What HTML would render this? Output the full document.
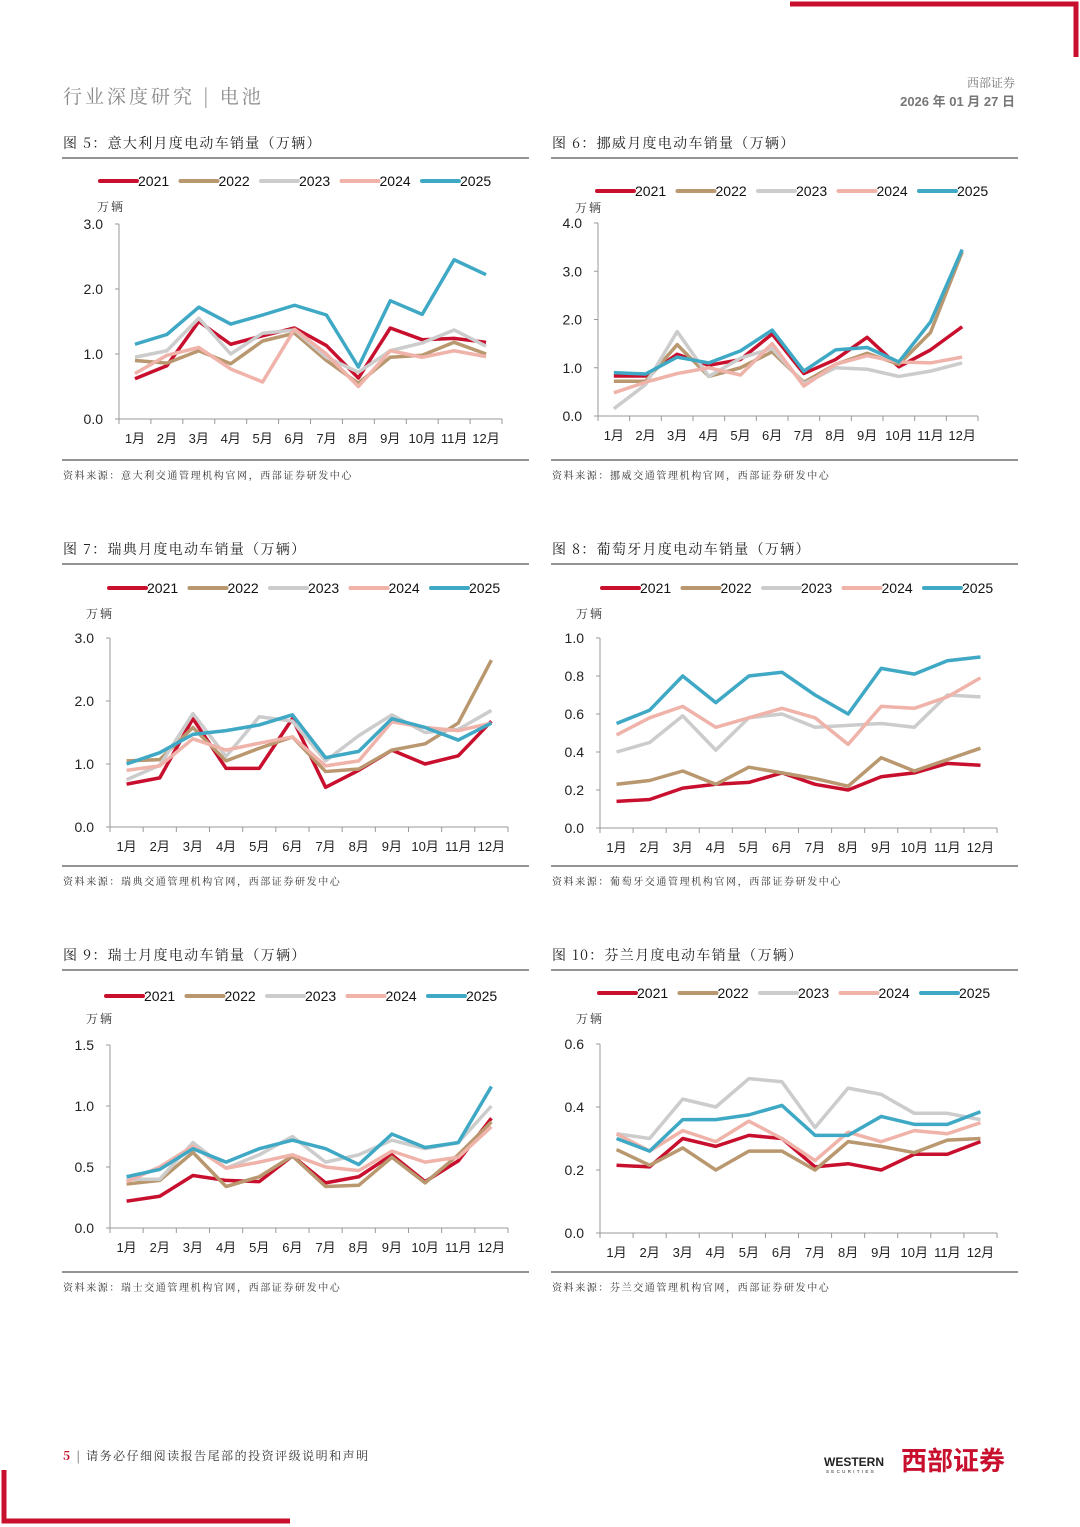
<!DOCTYPE html>
<html><head><meta charset="utf-8">
<style>
html,body{margin:0;padding:0;background:#fff;}
svg{display:block;font-family:"Liberation Sans","Noto Sans CJK SC",sans-serif;}
.cn{font-family:"Noto Serif CJK SC","Noto Sans CJK SC",serif;}
</style></head>
<body>
<svg id="page" width="1080" height="1527" viewBox="0 0 1080 1527" xmlns="http://www.w3.org/2000/svg">
<polyline points="790,4 1076,4 1076,57" fill="none" stroke="#c8102e" stroke-width="5"/>
<polyline points="4,1470 4,1521 290,1521" fill="none" stroke="#c8102e" stroke-width="5"/>
<text class="cn" x="63" y="103" font-size="19" fill="#8a8a8a" letter-spacing="3">行业深度研究 | 电池</text>
<text class="cn" x="1015" y="87" font-size="12" fill="#777" text-anchor="end">西部证券</text>
<text x="1015" y="106" font-size="13" fill="#777" font-weight="bold" text-anchor="end">2026 年 01 月 27 日</text>
<g id="charts"></g>
<text class="cn" x="63" y="1460" font-size="12" fill="#333" letter-spacing="1.5"><tspan fill="#c8102e" font-weight="bold">5</tspan>  |  请务必仔细阅读报告尾部的投资评级说明和声明</text>
<text x="824" y="1466" font-size="12" font-weight="bold" fill="#222">WESTERN</text>
<text x="826" y="1473" font-size="4.5" fill="#222" letter-spacing="2.3">SECURITIES</text>
<text x="901" y="1470" font-size="26" font-weight="bold" fill="#c8102e" font-family="Noto Sans CJK SC,sans-serif">西部证券</text>
</svg>
<script>
const months=['1月','2月','3月','4月','5月','6月','7月','8月','9月','10月','11月','12月'];
const years=['2021','2022','2023','2024','2025'];
const colors=['#c8102e','#b9976f','#cccccc','#efb3aa','#3fa9c5'];

const it21=[.62,.82,1.5,1.15,1.28,1.4,1.13,.63,1.4,1.22,1.24,1.18];
const it22=[.9,.86,1.05,.85,1.2,1.32,.9,.55,.95,.98,1.18,1.0];
const it23=[.95,1.05,1.55,1.0,1.32,1.37,.95,.72,1.05,1.17,1.37,1.12];
const it24=[.7,.98,1.1,.77,.57,1.38,1.0,.5,1.05,.95,1.05,.96];
const it25=[1.15,1.3,1.72,1.46,1.6,1.75,1.6,.8,1.82,1.61,2.45,2.22];

const no21=[.83,.83,1.28,1.05,1.17,1.7,.88,1.17,1.63,1.02,1.37,1.85];
const no22=[.72,.72,1.48,.82,1.0,1.33,.7,1.07,1.3,1.07,1.73,3.4];
const no23=[.15,.65,1.75,.82,1.2,1.4,.67,1.0,.97,.82,.93,1.1];
const no24=[.48,.7,.88,1.0,.85,1.5,.62,1.07,1.25,1.12,1.1,1.22];
const no25=[.9,.87,1.22,1.1,1.35,1.78,.93,1.37,1.42,1.12,1.95,3.45];

const se21=[.68,.78,1.72,.93,.93,1.72,.63,.9,1.22,1.0,1.13,1.68];
const se22=[1.05,1.07,1.58,1.05,1.25,1.43,.88,.92,1.22,1.32,1.65,2.65];
const se23=[.75,.98,1.8,1.12,1.75,1.68,1.05,1.45,1.78,1.5,1.55,1.85];
const se24=[.9,.97,1.4,1.22,1.33,1.43,.97,1.05,1.67,1.58,1.53,1.65];
const se25=[1.0,1.18,1.47,1.53,1.62,1.78,1.1,1.2,1.72,1.58,1.38,1.65];

const pt21=[.14,.15,.21,.23,.24,.29,.23,.2,.27,.29,.34,.33];
const pt22=[.23,.25,.3,.23,.32,.29,.26,.22,.37,.3,.36,.42];
const pt23=[.4,.45,.59,.41,.58,.6,.53,.54,.55,.53,.7,.69];
const pt24=[.49,.58,.64,.53,.58,.63,.58,.44,.64,.63,.69,.79];
const pt25=[.55,.62,.8,.66,.8,.82,.7,.6,.84,.81,.88,.9];

const ch21=[.22,.26,.43,.39,.38,.59,.37,.42,.6,.38,.55,.9];
const ch22=[.36,.39,.62,.34,.42,.59,.34,.35,.58,.37,.6,.87];
const ch23=[.4,.4,.7,.49,.6,.75,.54,.6,.72,.65,.7,1.0];
const ch24=[.38,.5,.67,.49,.54,.6,.5,.47,.63,.54,.58,.83];
const ch25=[.42,.48,.65,.54,.65,.72,.65,.52,.77,.66,.7,1.16];

const fi21=[.215,.21,.3,.275,.31,.3,.21,.22,.2,.25,.25,.29];
const fi22=[.265,.215,.27,.2,.26,.26,.2,.29,.275,.255,.295,.3];
const fi23=[.315,.3,.425,.4,.49,.48,.335,.46,.44,.38,.38,.36];
const fi24=[.315,.26,.325,.29,.355,.3,.23,.32,.29,.325,.315,.35];
const fi25=[.3,.26,.36,.36,.375,.405,.31,.31,.37,.345,.345,.385];

const ticks5=['0.0','1.0','2.0','3.0'];
const ticks6=['0.0','1.0','2.0','3.0','4.0'];
const ticks7=['0.0','1.0','2.0','3.0'];
const ticks8=['0.0','0.2','0.4','0.6','0.8','1.0'];
const ticks9=['0.0','0.5','1.0','1.5'];
const ticks10=['0.0','0.2','0.4','0.6'];

const charts=[
 {id:'italy',title:'图 5：意大利月度电动车销量（万辆）',src:'资料来源：意大利交通管理机构官网，西部证券研发中心',col:0,row:0,ax:119,top:224,bot:419,right:502,leg:181,legX:100,unitX:97,unitY:211,ticks:ticks5,series:[it21,it22,it23,it24,it25]},
 {id:'norway',title:'图 6：挪威月度电动车销量（万辆）',src:'资料来源：挪威交通管理机构官网，西部证券研发中心',col:1,row:0,ax:598,top:223,bot:416,right:978,leg:191,legX:597,unitX:575,unitY:212,ticks:ticks6,series:[no21,no22,no23,no24,no25]},
 {id:'sweden',title:'图 7：瑞典月度电动车销量（万辆）',src:'资料来源：瑞典交通管理机构官网，西部证券研发中心',col:0,row:1,ax:110,top:638,bot:827,right:508,leg:588,legX:109,unitX:86,unitY:618,ticks:ticks7,series:[se21,se22,se23,se24,se25]},
 {id:'portugal',title:'图 8：葡萄牙月度电动车销量（万辆）',src:'资料来源：葡萄牙交通管理机构官网，西部证券研发中心',col:1,row:1,ax:600,top:638,bot:828,right:997,leg:588,legX:602,unitX:576,unitY:618,ticks:ticks8,series:[pt21,pt22,pt23,pt24,pt25]},
 {id:'switzerland',title:'图 9：瑞士月度电动车销量（万辆）',src:'资料来源：瑞士交通管理机构官网，西部证券研发中心',col:0,row:2,ax:110,top:1045,bot:1228,right:508,leg:996,legX:106,unitX:86,unitY:1023,ticks:ticks9,series:[ch21,ch22,ch23,ch24,ch25]},
 {id:'finland',title:'图 10：芬兰月度电动车销量（万辆）',src:'资料来源：芬兰交通管理机构官网，西部证券研发中心',col:1,row:2,ax:600,top:1044,bot:1233,right:997,leg:993,legX:599,unitX:576,unitY:1023,ticks:ticks10,series:[fi21,fi22,fi23,fi24,fi25]}
];
const NS='http://www.w3.org/2000/svg';
const root=document.getElementById('charts');
function mk(tag,attrs,parent,text){const e=document.createElementNS(NS,tag);for(const k in attrs)e.setAttribute(k,attrs[k]);if(text!==undefined)e.textContent=text;parent.appendChild(e);return e;}
const colX=[62,551], rowY=[0,406,812];
charts.forEach(c=>{
 const g=mk('g',{},root);
 
 
 const x0=colX[c.col], dy=rowY[c.row];
 const t=mk('text',{x:x0+1,y:148+dy,'font-size':14,fill:'#222','class':'cn','letter-spacing':'1.3'},g,c.title);
 
 
 const l1=mk('line',{x1:x0,x2:x0+467,y1:158+dy,y2:158+dy,stroke:'#555','stroke-width':1.2},g);
 
 
 const l2=mk('line',{x1:x0,x2:x0+467,y1:460+dy,y2:460+dy,stroke:'#555','stroke-width':1.2},g);
 
 
 const s=mk('text',{x:x0+1,y:479+dy,'font-size':10,fill:'#333','class':'cn','letter-spacing':'1.6'},g,c.src);
 
 
 const u=mk('text',{x:c.unitX,y:c.unitY,'font-size':12,fill:'#333','class':'cn','letter-spacing':'2'},g,'万辆');
 
 
 const n=c.ticks.length-1, max=parseFloat(c.ticks[n]);
 const yS=v=>c.bot-(v/max)*(c.bot-c.top);
 const bw=(c.right-c.ax)/12;
 const xS=i=>c.ax+bw*(i+0.5);
 const ax=mk('polyline',{points:`${c.ax},${c.top} ${c.ax},${c.bot} ${c.right},${c.bot}`,fill:'none',stroke:'#999','stroke-width':1},g);
 
 
 c.ticks.forEach((tk,i)=>{
  const y=yS(parseFloat(tk));
  mk('line',{x1:c.ax-4,x2:c.ax,y1:y,y2:y,stroke:'#999'},g);
  const tt=mk('text',{x:c.ax-16,y:y+5,'font-size':14,fill:'#222','text-anchor':'end'},g,tk);
  
  
 });
 for(let i=0;i<=12;i++){const x=c.ax+bw*i;mk('line',{x1:x,x2:x,y1:c.bot,y2:c.bot+5,stroke:'#999'},g);}
 months.forEach((m,i)=>{
  const tt=mk('text',{x:xS(i),y:c.bot+24,'font-size':13,fill:'#222','text-anchor':'middle'},g,m);
  
  
 });
 c.series.forEach((arr,k)=>{
  const p=mk('polyline',{points:arr.map((v,i)=>xS(i)+','+yS(v)).join(' '),fill:'none',stroke:colors[k],'stroke-width':3.5,'stroke-linejoin':'round'},g);
  
  
 });
 years.forEach((yr,k)=>{
  const lx=c.legX+k*80.5;
  const lg=mk('g',{},g);
  
  
  mk('line',{x1:lx,x2:lx+37,y1:c.leg,y2:c.leg,stroke:colors[k],'stroke-width':4,'stroke-linecap':'round'},lg);
  mk('text',{x:lx+38,y:c.leg+5,'font-size':14,fill:'#111'},lg,yr);
 });
});
</script>
</body></html>
